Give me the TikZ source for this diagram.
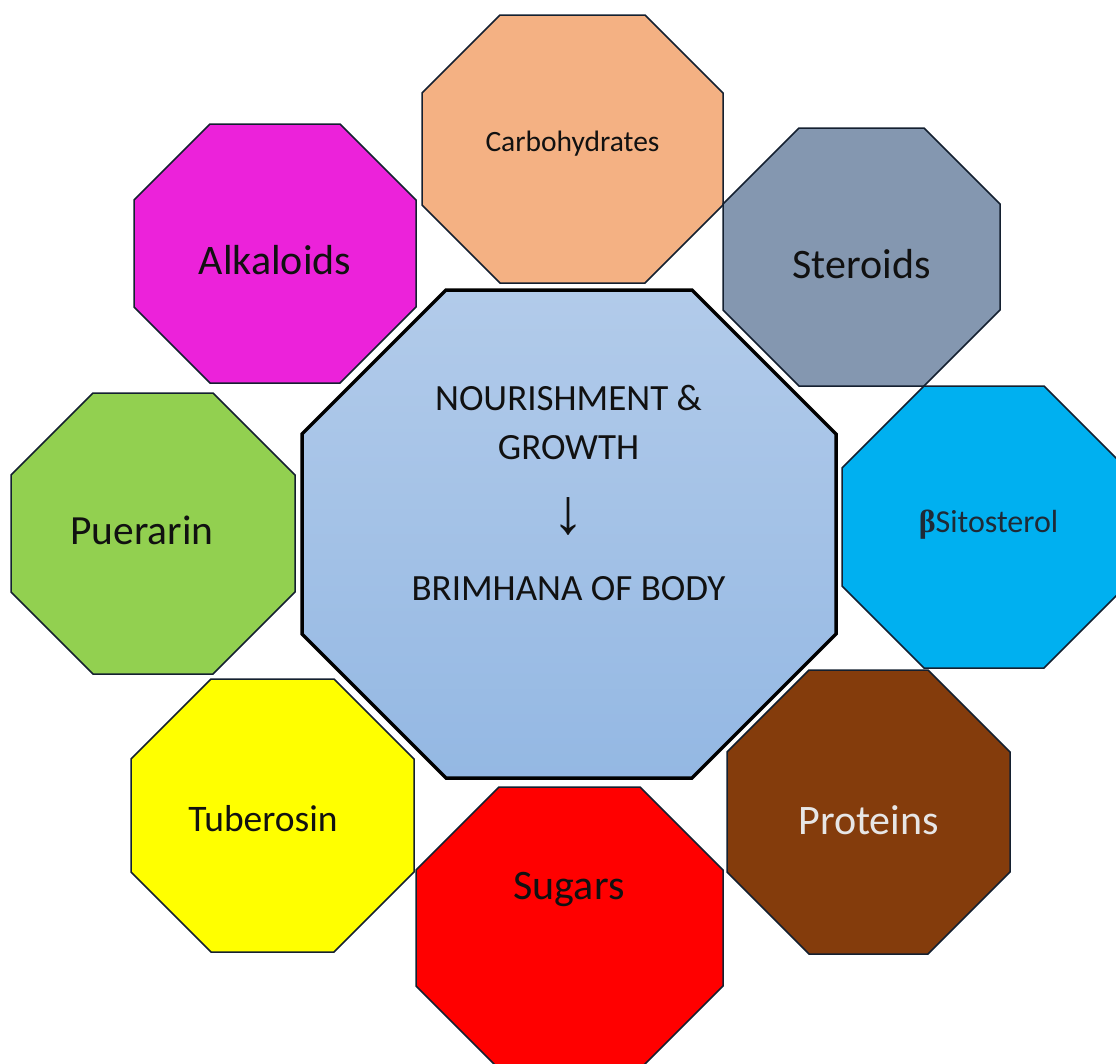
\documentclass[tikz,border=0pt]{standalone}
\usepackage{fontspec}
\setmainfont{Carlito}
\newfontfamily\arrowfont{Liberation Sans}
\newfontfamily\greekfont{Liberation Serif}
\definecolor{outl}{HTML}{142030}
\definecolor{txt}{HTML}{111111}
\definecolor{cCarb}{HTML}{F4B183}
\definecolor{cAlk}{HTML}{EC22DA}
\definecolor{cSter}{HTML}{8497B0}
\definecolor{cSito}{HTML}{00B0F0}
\definecolor{cPuer}{HTML}{92D050}
\definecolor{cTub}{HTML}{FFFF00}
\definecolor{cSug}{HTML}{FF0000}
\definecolor{cProt}{HTML}{843C0C}
\definecolor{cTop}{HTML}{B2CBEA}
\definecolor{cBot}{HTML}{94B8E3}
\definecolor{cProtTxt}{HTML}{E7E6E6}
\definecolor{cSitoTxt}{HTML}{1F2A36}
% #1 style, #2 xl, #3 yt, #4 xr, #5 yb, #6 cut
\newcommand\drawoct[6]{%
  \path[#1] ({#2+#6},#3) -- ({#4-#6},#3) -- (#4,{#3+#6}) -- (#4,{#5-#6})
    -- ({#4-#6},#5) -- ({#2+#6},#5) -- (#2,{#5-#6}) -- (#2,{#3+#6}) -- cycle;}
\begin{document}
\begin{tikzpicture}[x=1pt,y=-1pt,
  oct/.style={draw=outl, line width=1.5pt, line join=miter},
  lbl/.style={anchor=base, inner sep=0pt, text=txt}]
\useasboundingbox (0,0) rectangle (1116,1063);
\clip (0,0) rectangle (1116,1063);
% outer octagons
\drawoct{oct, fill=cCarb}{422}{15}{723}{283}{78}
\drawoct{oct, fill=cAlk}{134}{124}{416}{383}{76}
\drawoct{oct, fill=cSter}{723}{128}{1000}{386}{76}
\drawoct{oct, fill=cSito}{842}{386}{1126}{668}{82}
\drawoct{oct, fill=cPuer}{11}{393}{295}{674}{82}
\drawoct{oct, fill=cTub}{131}{679}{414}{952}{80}
\drawoct{oct, fill=cSug}{416}{787}{723}{1069}{83}
\drawoct{oct, fill=cProt}{727}{670}{1010}{954}{82}
% central octagon
\drawoct{draw=black, line width=3.5pt, line join=miter, top color=cTop, bottom color=cBot}{302}{290}{836}{778}{144}
% labels
\node[lbl, font=\fontsize{29.5}{35}\selectfont] (carb) at (572.5,151) {Carbohydrates};
\node[lbl, font=\fontsize{42}{50}\selectfont] (alk) at (275,274) {Alkaloids};
\node[lbl, font=\fontsize{42}{50}\selectfont] (ster) at (861.5,278) {Steroids};
\node[lbl, text=cSitoTxt, font=\fontsize{32}{38}\selectfont] (sito) at (988.5,532) {{\greekfont\bfseries β}Sitosterol};
\node[lbl, font=\fontsize{41.5}{50}\selectfont] (puer) at (141.7,544) {Puerarin};
\node[lbl, font=\fontsize{37.5}{45}\selectfont] (tub) at (263,831) {Tuberosin};
\node[lbl, font=\fontsize{42}{50}\selectfont] (sug) at (569,899) {Sugars};
\node[lbl, text=cProtTxt, font=\fontsize{42}{50}\selectfont] (prot) at (868.7,834) {Proteins};
% central text
\node[lbl, font=\fontsize{37}{44}\selectfont] (nour) at (568.5,410) {NOURISHMENT \&};
\node[lbl, font=\fontsize{37}{44}\selectfont] (grow) at (568.5,459) {GROWTH};
\node[lbl, font=\fontsize{64}{70}\selectfont\arrowfont] (arr) at (568.5,533) {↓};
\node[lbl, font=\fontsize{37}{44}\selectfont] (brim) at (568.5,600) {BRIMHANA OF BODY};
\end{tikzpicture}
\end{document}
